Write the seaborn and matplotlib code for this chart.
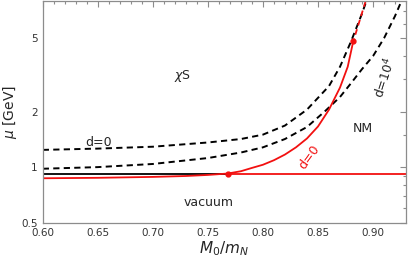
import numpy as np
import pandas as pd
import seaborn as sns
import matplotlib.pyplot as plt
from matplotlib.ticker import FixedLocator, NullFormatter, MultipleLocator

# curve d=0 (black dashed, upper)
m0_d0 = [0.60, 0.65, 0.70, 0.75, 0.78, 0.80, 0.82, 0.84, 0.86, 0.87, 0.88, 0.89, 0.895]
mu_d0 = [1.24, 1.26, 1.29, 1.36, 1.42, 1.50, 1.68, 2.05, 2.75, 3.5, 4.8, 6.8, 8.3]

# curve d=10^4 (black dashed, lower)
m0_d4 = [0.60, 0.65, 0.70, 0.75, 0.78, 0.80, 0.82, 0.84, 0.856, 0.87, 0.88, 0.89, 0.90, 0.91, 0.92, 0.926]
mu_d4 = [0.98, 1.00, 1.04, 1.12, 1.20, 1.28, 1.42, 1.65, 2.0, 2.4, 2.85, 3.4, 4.0, 5.0, 6.6, 8.0]

# red transition line (solid part, then dashed continuation)
m0_red = [0.768, 0.78, 0.79, 0.80, 0.81, 0.82, 0.83, 0.84, 0.85, 0.86, 0.87, 0.877, 0.882]
mu_red = [0.923, 0.95, 0.99, 1.03, 1.09, 1.17, 1.28, 1.43, 1.66, 2.05, 2.7, 3.5, 4.8]
m0_red_dash = [0.882, 0.887, 0.892, 0.894]
mu_red_dash = [4.8, 6.0, 7.5, 8.2]

# red lower line (left of the triple point)
m0_red_low = [0.60, 0.65, 0.70, 0.73, 0.75, 0.768]
mu_red_low = [0.87, 0.875, 0.885, 0.895, 0.907, 0.923]

mu_nm = 0.923
x_triple = 0.768
x_end = [0.882]
mu_end = [4.8]

red = "#f21010"
grey = "#8c8c8c"

sns.set_style("white")
plt.rcParams['font.family'] = ['DejaVu Sans']
fig, ax = plt.subplots(figsize=(4.11, 2.66), dpi=100)
fig.subplots_adjust(left=0.104, right=0.988, bottom=0.163, top=0.998)

sns.lineplot(x=m0_d0, y=mu_d0, ax=ax, color="black", lw=1.4, ls=(0, (3.2, 2.2)), sort=False)
sns.lineplot(x=m0_d4, y=mu_d4, ax=ax, color="black", lw=1.4, ls=(0, (3.2, 2.2)), sort=False)
sns.lineplot(x=[0.60, x_triple], y=[mu_nm, mu_nm], ax=ax, color="black", lw=1.3)
sns.lineplot(x=[x_triple, 0.93], y=[mu_nm, mu_nm], ax=ax, color=red, lw=1.3)
sns.lineplot(x=m0_red_low, y=mu_red_low, ax=ax, color=red, lw=1.3, sort=False)
sns.lineplot(x=m0_red, y=mu_red, ax=ax, color=red, lw=1.3, sort=False)
sns.lineplot(x=m0_red_dash, y=mu_red_dash, ax=ax, color=red, lw=1.3,
             ls=(1.5, (3.2, 2.2)), sort=False)
ax.plot([x_triple], [mu_nm], "o", color=red, ms=3.5)
ax.plot(x_end, mu_end, "o", color=red, ms=3.5)

ax.set_yscale("log")
ax.set_xlim(0.60, 0.93)
ax.set_ylim(0.5, 8.0)

ax.xaxis.set_major_locator(MultipleLocator(0.05))
ax.xaxis.set_minor_locator(MultipleLocator(0.01))
ax.yaxis.set_major_locator(FixedLocator([0.5, 1, 2, 5]))
ax.yaxis.set_minor_locator(FixedLocator([0.6, 0.7, 0.8, 0.9, 1.5, 3, 4, 6, 7]))
ax.yaxis.set_minor_formatter(NullFormatter())
ax.set_yticklabels(["0.5", "1", "2", "5"])
ax.set_xticklabels([f"{v:.2f}" for v in ax.get_xticks()])
ax.set_xlim(0.60, 0.93)

ax.tick_params(which="both", direction="in", top=True, right=True, colors=grey,
               labelcolor="#333333", labelsize=7.5, width=0.8)
ax.tick_params(which="major", length=4)
ax.tick_params(which="minor", length=2.2)
for s in ax.spines.values():
    s.set_color(grey)
    s.set_linewidth(0.9)

ax.set_xlabel(r"$M_0/m_N$", fontsize=11, labelpad=1)
ax.set_ylabel(r"$\mu$ [GeV]", fontsize=10, labelpad=2)

ax.text(0.727, 3.1, r"$\chi$S", fontsize=9, ha="center", va="center")
ax.text(0.651, 1.36, "d=0", fontsize=9, ha="center", va="center")
ax.text(0.891, 1.62, "NM", fontsize=9, ha="center", va="center")
ax.text(0.751, 0.64, "vacuum", fontsize=9, ha="center", va="center")
ax.text(0.842, 1.13, "d=0", fontsize=9, ha="center", va="center", color=red, rotation=54)
ax.text(0.911, 3.05, r"d=10$^4$", fontsize=9, ha="center", va="center", rotation=72)

fig.savefig("out.png", dpi=100)
